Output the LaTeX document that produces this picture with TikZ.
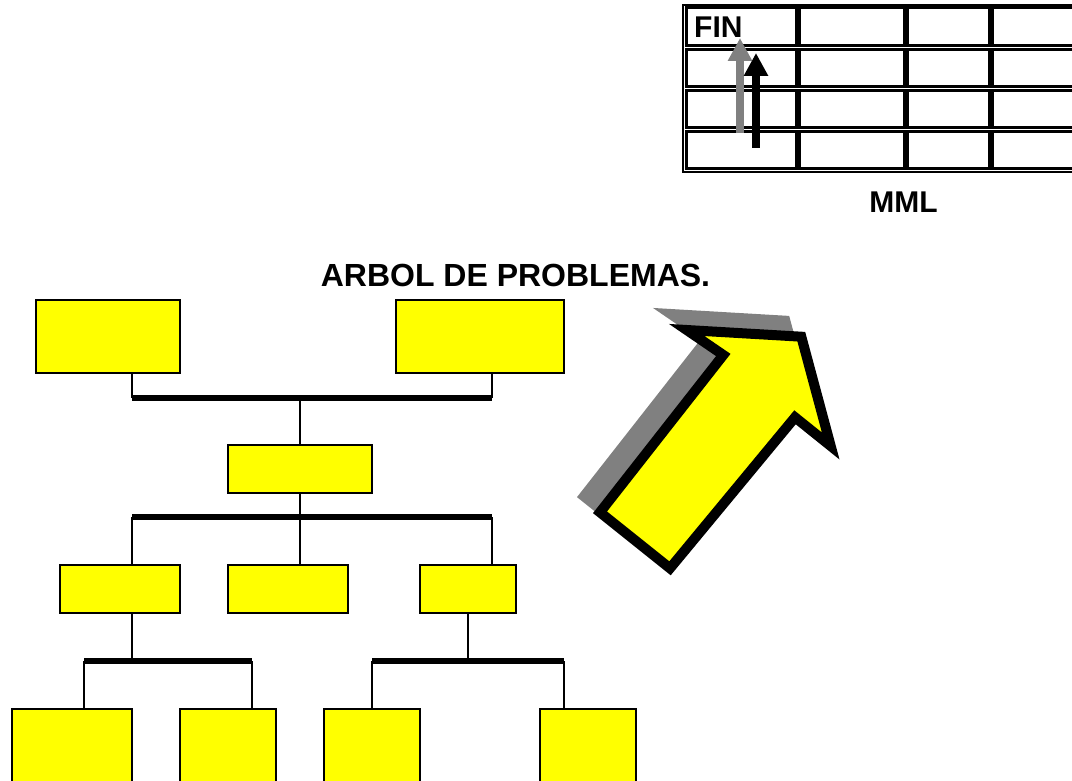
\documentclass[tikz,border=0pt]{standalone}
\usepackage{fontspec}
\setmainfont{Liberation Sans}
\usetikzlibrary{arrows.meta}
\definecolor{amarillo}{RGB}{255,255,0}
\definecolor{gris}{RGB}{128,128,128}

\begin{document}
\begin{tikzpicture}[x=1pt, y=-1pt,
    caja/.style={draw, fill=amarillo, line width=1.5, inner sep=0},
    rama/.style={line width=1.5},
    barra/.style={line width=6},
    celda/.style={line width=3},
    titulo/.style={font=\fontsize{32}{38}\selectfont\bfseries, inner sep=0},
    etiqueta/.style={font=\fontsize{30}{36}\selectfont\bfseries, inner sep=0}]
  \useasboundingbox (0,0) rectangle (1072,781);

  % tabla MML
  \draw[line width=2] (682.5,5.5) rectangle (1090,172);
  \foreach \xa/\xb in {686.5/796, 799.5/904, 907.5/989, 992.5/1090}
    \foreach \ya/\yb in {7.5/46, 49.5/87, 90.5/128, 131.5/168.5}
      \draw[celda] (\xa,\ya) rectangle (\xb,\yb);
  \node[etiqueta, anchor=base west] (fin) at (694,38) {FIN};
  \node[etiqueta, anchor=base] (mml) at (903.5,212) {MML};
  \coordinate (g0) at (740,133);
  \coordinate (g1) at (740,38);
  \coordinate (n0) at (756,148);
  \coordinate (n1) at (756,53);
  \draw[gris, line width=8, -{Triangle[width=23pt, length=23pt]}] (g0) -- (g1);
  \draw[black, line width=8, -{Triangle[width=23pt, length=23pt]}] (n0) -- (n1);

  % titulo
  \node[titulo, anchor=base] (arbol) at (515.5,287) {ARBOL DE PROBLEMAS.};

  % flecha grande
  \begin{scope}[shift={(-16,-16)}]
    \draw[fill=gris, draw=gris, line width=10, line join=miter]
      (686.7,330) -- (801.3,336.7) -- (830.7,446) -- (795,417.3)
      -- (670,568.3) -- (600,512.3) -- (723.3,355) -- cycle;
  \end{scope}
  \draw[fill=amarillo, draw=black, line width=10, line join=miter]
    (686.7,330) -- (801.3,336.7) -- (830.7,446) -- (795,417.3)
    -- (670,568.3) -- (600,512.3) -- (723.3,355) -- cycle;

  % arbol
  \node[caja, minimum width=144, minimum height=73] (tl) at (108,336.5) {};
  \node[caja, minimum width=168, minimum height=73] (tr) at (480,336.5) {};
  \node[caja, minimum width=144, minimum height=48] (mid) at (300,469) {};
  \node[caja, minimum width=120, minimum height=48] (pa) at (120,589) {};
  \node[caja, minimum width=120, minimum height=48] (pb) at (288,589) {};
  \node[caja, minimum width=96, minimum height=48] (pc) at (468,589) {};
  \node[caja, minimum width=120, minimum height=80] (ha) at (72,749) {};
  \node[caja, minimum width=96, minimum height=80] (hb) at (228,749) {};
  \node[caja, minimum width=96, minimum height=80] (hc) at (372,749) {};
  \node[caja, minimum width=96, minimum height=80] (hd) at (588,749) {};

  \coordinate (b1l) at (132,397.5);
  \coordinate (b1m) at (300,397.5);
  \coordinate (b1r) at (492,397.5);
  \coordinate (b2l) at (132,517);
  \coordinate (b2m) at (300,517);
  \coordinate (b2r) at (492,517);
  \coordinate (b3l) at (84,661);
  \coordinate (b3m) at (132,661);
  \coordinate (b3r) at (252,661);
  \coordinate (b4l) at (372,661);
  \coordinate (b4m) at (468,661);
  \coordinate (b4r) at (564,661);

  \draw[rama] (tl.south -| b1l) -- (b1l);
  \draw[rama] (tr.south -| b1r) -- (b1r);
  \draw[rama] (b1m) -- (mid.north);
  \draw[rama] (mid.south) -- (b2m);
  \draw[rama] (b2l) -- (b2l |- pa.north);
  \draw[rama] (b2m) -- (b2m |- pb.north);
  \draw[rama] (b2r) -- (b2r |- pc.north);
  \draw[rama] (b3m |- pa.south) -- (b3m);
  \draw[rama] (b3l) -- (b3l |- ha.north);
  \draw[rama] (b3r) -- (b3r |- hb.north);
  \draw[rama] (pc.south) -- (b4m);
  \draw[rama] (b4l) -- (b4l |- hc.north);
  \draw[rama] (b4r) -- (b4r |- hd.north);

  \draw[barra] (b1l) -- (b1r);
  \draw[barra] (b2l) -- (b2r);
  \draw[barra] (b3l) -- (b3r);
  \draw[barra] (b4l) -- (b4r);
\end{tikzpicture}
\end{document}
